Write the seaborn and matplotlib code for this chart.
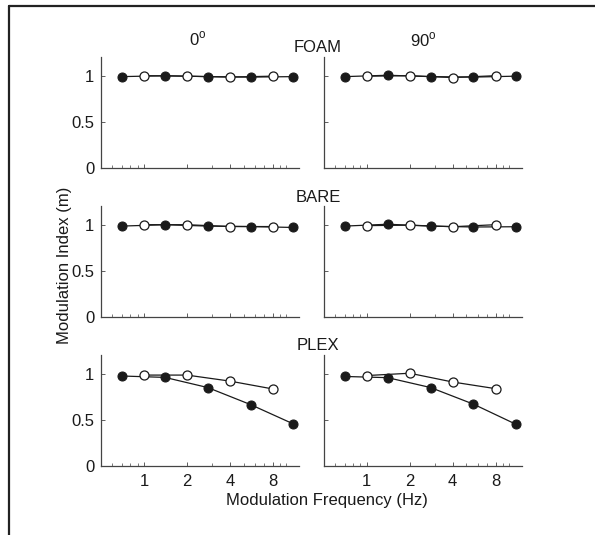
import matplotlib
matplotlib.use("Agg")
import matplotlib.pyplot as plt
import matplotlib.ticker as mticker
import pandas as pd
import seaborn as sns

# stimulus frequencies (Hz)
filled_freq = [0.7, 1.4, 2.8, 5.6, 11.2]
open_freq = [1, 2, 4, 8]

conditions = ["FOAM", "BARE", "PLEX"]
angles = ["0$^\\mathregular{o}$", "90$^\\mathregular{o}$"]

# modulation index per condition / angle
foam_0_filled = [0.99, 1.0, 0.99, 0.985, 0.99]
foam_0_open = [1.0, 0.995, 0.985, 0.995]
foam_90_filled = [0.99, 1.005, 0.99, 0.985, 0.995]
foam_90_open = [0.995, 1.0, 0.98, 1.0]

bare_0_filled = [0.985, 1.0, 0.985, 0.98, 0.97]
bare_0_open = [1.0, 1.0, 0.98, 0.98]
bare_90_filled = [0.985, 1.005, 0.985, 0.975, 0.978]
bare_90_open = [0.99, 0.995, 0.978, 1.0]

plex_0_filled = [0.975, 0.96, 0.85, 0.665, 0.455]
plex_0_open = [0.985, 0.985, 0.92, 0.835]
plex_90_filled = [0.97, 0.957, 0.85, 0.67, 0.45]
plex_90_open = [0.98, 1.005, 0.91, 0.838]

panels = {
    ("FOAM", 0): (foam_0_filled, foam_0_open),
    ("FOAM", 1): (foam_90_filled, foam_90_open),
    ("BARE", 0): (bare_0_filled, bare_0_open),
    ("BARE", 1): (bare_90_filled, bare_90_open),
    ("PLEX", 0): (plex_0_filled, plex_0_open),
    ("PLEX", 1): (plex_90_filled, plex_90_open),
}

sns.set_theme(style="ticks")
plt.rcParams["font.family"] = ["Liberation Sans", "DejaVu Sans"]
ink = "#1a1a1a"
fs = 12

fig = plt.figure(figsize=(5.95, 5.35), dpi=100)

lefts = [0.170, 0.5445]
width = 0.333
bottoms = [0.686, 0.4075, 0.129]
height = 0.207

for r, cond in enumerate(conditions):
    for c in range(2):
        ax = fig.add_axes([lefts[c], bottoms[r], width, height])
        f_vals, o_vals = panels[(cond, c)]
        df_f = pd.DataFrame({"freq": filled_freq, "m": f_vals})
        df_o = pd.DataFrame({"freq": open_freq, "m": o_vals})
        sns.lineplot(data=df_f, x="freq", y="m", ax=ax, color=ink, lw=0.9,
                     marker="o", markersize=6.5, markerfacecolor=ink,
                     markeredgecolor=ink, zorder=2)
        sns.lineplot(data=df_o, x="freq", y="m", ax=ax, color=ink, lw=0.9,
                     marker="o", markersize=6.5, markerfacecolor="white",
                     markeredgecolor=ink, markeredgewidth=0.9, zorder=3)
        ax.set_xscale("log")
        ax.set_xlim(0.5, 12.3)
        ax.set_ylim(0, 1.2)
        ax.xaxis.set_major_locator(mticker.FixedLocator([1, 2, 4, 8]))
        ax.xaxis.set_minor_locator(mticker.LogLocator(base=10, subs=range(1, 10)))
        ax.xaxis.set_minor_formatter(mticker.NullFormatter())
        ax.set_yticks([0, 0.5, 1])
        ax.set_xlabel("")
        ax.set_ylabel("")
        for s in ["top", "right"]:
            ax.spines[s].set_visible(False)
        for s in ["left", "bottom"]:
            ax.spines[s].set_color("#444444")
            ax.spines[s].set_linewidth(0.9)
        ax.tick_params(which="both", direction="in", colors="#444444",
                       labelcolor=ink, labelsize=fs)
        ax.tick_params(which="major", length=3, width=0.6)
        ax.tick_params(which="minor", length=2, width=0.5)
        ax.tick_params(axis="x", which="major", pad=6)
        ax.tick_params(axis="y", which="major", pad=5)
        if r < 2:
            ax.set_xticklabels([])
        else:
            ax.set_xticklabels(["1", "2", "4", "8"])
        if c == 1:
            ax.set_yticklabels([])
        else:
            ax.set_yticklabels(["0", "0.5", "1"])

# condition and angle labels
fig.text(198 / 595, 1 - 39 / 535, angles[0], ha="center", va="center", fontsize=fs, color=ink)
fig.text(423 / 595, 1 - 40 / 535, angles[1], ha="center", va="center", fontsize=fs, color=ink)
for cond, y in zip(conditions, [48, 197, 345]):
    fig.text(318 / 595, 1 - y / 535, cond, ha="center", va="center", fontsize=fs, color=ink)

fig.text(327 / 595, 1 - 500 / 535, "Modulation Frequency (Hz)", ha="center", va="center",
         fontsize=fs, color=ink)
fig.text(65 / 595, 1 - 265 / 535, "Modulation Index (m)", ha="center", va="center",
         rotation=90, fontsize=fs, color=ink)

# partial frame along top and left edges
fig.add_artist(plt.Line2D([9 / 595, 9 / 595], [0, 1 - 6 / 535], transform=fig.transFigure,
                          color="#222222", lw=1.6))
fig.add_artist(plt.Line2D([9 / 595, 1], [1 - 6 / 535, 1 - 6 / 535], transform=fig.transFigure,
                          color="#222222", lw=1.6))

fig.savefig("out.png", dpi=100)
plt.close(fig)
